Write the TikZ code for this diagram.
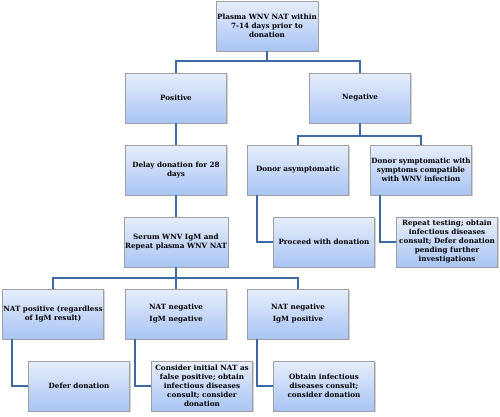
\documentclass[tikz,border=0pt]{standalone}
\usepackage{fontspec}
\setmainfont{DejaVu Serif}
\usetikzlibrary{shadows}

\definecolor{boxtop}{HTML}{E6EEFB}
\definecolor{boxbot}{HTML}{A9C4F5}
\definecolor{boxedge}{HTML}{A0A0A0}
\definecolor{wire}{HTML}{3C6AA5}

\begin{document}
\begin{tikzpicture}[x=1pt, y=1pt,
  step box/.style={draw=boxedge, top color=boxtop, bottom color=boxbot,
    minimum width=101pt, minimum height=50pt,
    inner sep=1pt, align=center, font=\fontsize{7.2}{9}\selectfont\bfseries,
    drop shadow={shadow xshift=1pt, shadow yshift=-1pt, opacity=0.35}},
  wire/.style={draw=wire, line width=1.8pt}]

  \useasboundingbox (0,0) rectangle (500,-416);

  % first test
  \node[step box] (plasma) at (267,-26) {Plasma WNV NAT within\\7-14 days prior to\\donation};
  \node[step box] (pos) at (176,-98) {Positive};
  \node[step box] (neg) at (360,-98) {Negative};

  % negative branch
  \node[step box] (asym) at (298,-170) {Donor asymptomatic};
  \node[step box] (sympt) at (421,-170) {Donor symptomatic with\\symptoms compatible\\with WNV infection};
  \node[step box] (proceed) at (324,-242) {Proceed with donation};
  \node[step box] (repeat) at (447,-242) {Repeat testing; obtain\\infectious diseases\\consult; Defer donation\\pending further\\investigations};

  % positive branch
  \node[step box] (delay) at (176,-170) {Delay donation for 28\\days};
  \node[step box] (serum) at (176,-242) {Serum WNV IgM and\\Repeat plasma WNV NAT};
  \node[step box] (natpos) at (53,-314) {NAT positive (regardless\\of IgM result)};
  \node[step box] (natneg) at (176,-314) {NAT negative\\[3pt]IgM negative};
  \node[step box] (igmpos) at (298,-314) {NAT negative\\[3pt]IgM positive};
  \node[step box] (defer) at (79,-386) {Defer donation};
  \node[step box] (consider) at (202,-386) {Consider initial NAT as\\false positive; obtain\\infectious diseases\\consult; consider\\donation};
  \node[step box] (obtain) at (324,-386) {Obtain infectious\\diseases consult;\\consider donation};

  \draw[wire] (plasma.south) -- ++(0,-10) -| (pos.north);
  \draw[wire] (plasma.south) -- ++(0,-10) -| (neg.north);
  \draw[wire] (pos) -- (delay);
  \draw[wire] (delay) -- (serum);
  \draw[wire] (neg.south) -- ++(0,-13) -| (asym.north);
  \draw[wire] (neg.south) -- ++(0,-13) -| (sympt.north);
  \draw[wire] ([xshift=10pt]asym.south west) |- (proceed.west);
  \draw[wire] ([xshift=10pt]sympt.south west) |- (repeat.west);
  \draw[wire] (serum.south) -- ++(0,-11) -| (natpos.north);
  \draw[wire] (serum.south) -- ++(0,-11) -| (natneg.north);
  \draw[wire] (serum.south) -- ++(0,-11) -| (igmpos.north);
  \draw[wire] ([xshift=10pt]natpos.south west) |- (defer.west);
  \draw[wire] ([xshift=10pt]natneg.south west) |- (consider.west);
  \draw[wire] ([xshift=10pt]igmpos.south west) |- (obtain.west);

\end{tikzpicture}
\end{document}
